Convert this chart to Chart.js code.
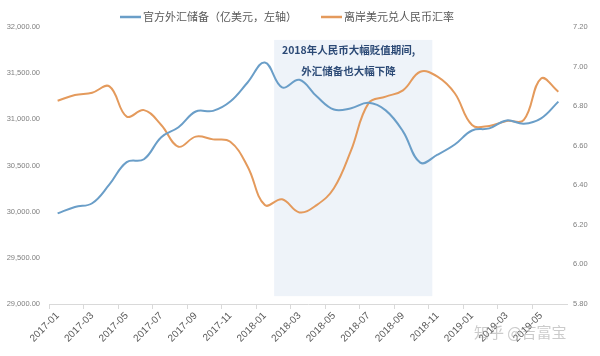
<!DOCTYPE html>
<html><head><meta charset="utf-8">
<script src="https://cdn.jsdelivr.net/npm/chart.js@4.4.1/dist/chart.umd.min.js"></script>
<style>html,body{margin:0;padding:0;background:#fff}#wrap{width:600px;height:356px}</style>
</head><body><div id="wrap"><canvas id="c" width="600" height="356"></canvas></div>
<script>
const months = ['2017-01','2017-02','2017-03','2017-04','2017-05','2017-06','2017-07','2017-08','2017-09','2017-10','2017-11','2017-12',
  '2018-01','2018-02','2018-03','2018-04','2018-05','2018-06','2018-07','2018-08','2018-09','2018-10','2018-11','2018-12',
  '2019-01','2019-02','2019-03','2019-04','2019-05','2019-06'];
const reserves = [29982,30051,30091,30295,30536,30568,30807,30915,31085,31092,31193,31399,
  31615,31345,31428,31249,31106,31121,31179,31097,30870,30531,30617,30727,
  30879,30902,30988,30952,31010,31192];
const usdCnh = [6.827,6.856,6.868,6.900,6.747,6.780,6.705,6.595,6.646,6.632,6.620,6.495,
  6.300,6.329,6.263,6.300,6.385,6.578,6.814,6.848,6.880,6.974,6.949,6.865,
  6.705,6.700,6.725,6.730,6.940,6.873];
const seriesNames = ['官方外汇储备（亿美元，左轴）','离岸美元兑人民币汇率'];
const leftRange = [29000, 32000, 500];
const rightRange = [5.8, 7.2, 0.2];
const noteLines = ['2018年人民币大幅贬值期间,','外汇储备也大幅下降'];
const watermark = '知乎 @吉富宝';

const BLUE = '#6a9ec8', ORANGE = '#e49a5c';
const FONT = '"Noto Sans CJK SC", "Noto Sans", sans-serif';
const NUMFONT = '"Liberation Sans", Arial, sans-serif';
// shaded period expressed in category-index units and left-axis values
const SHADE = {from: 12.54, to: 21.7, top: 31860, bottom: 29085};

const shadePlugin = {
  id: 'shade',
  beforeDatasetsDraw(chart) {
    const xs = chart.scales.x, ys = chart.scales.y, ctx = chart.ctx;
    const p0 = xs.getPixelForValue(0), step = xs.getPixelForValue(1) - p0;
    const l = p0 + SHADE.from * step, r = p0 + SHADE.to * step;
    const t = ys.getPixelForValue(SHADE.top), b = ys.getPixelForValue(SHADE.bottom);
    ctx.save();
    ctx.fillStyle = '#eef3f9';
    ctx.fillRect(l, t, r - l, b - t);
    ctx.restore();
  },
  afterDraw(chart) {
    const xs = chart.scales.x, ctx = chart.ctx;
    const p0 = xs.getPixelForValue(0), step = xs.getPixelForValue(1) - p0;
    const cx = p0 + 16.85 * step;
    ctx.save();
    ctx.fillStyle = '#2c4a76';
    ctx.font = 'bold 10.5px ' + FONT;
    ctx.textAlign = 'center';
    ctx.textBaseline = 'middle';
    ctx.fillText(noteLines[0], cx, 50);
    ctx.fillText(noteLines[1], cx, 71);
    // legend
    ctx.font = '11px ' + FONT;
    ctx.textAlign = 'left';
    ctx.fillStyle = '#595959';
    const items = [[120, BLUE, seriesNames[0]], [321, ORANGE, seriesNames[1]]];
    items.forEach(([x, col, txt]) => {
      ctx.strokeStyle = col; ctx.lineWidth = 2.5;
      ctx.beginPath(); ctx.moveTo(x, 17); ctx.lineTo(x + 21, 17); ctx.stroke();
      ctx.fillText(txt, x + 23, 17);
    });
    // watermark
    ctx.font = '15px ' + FONT;
    ctx.fillStyle = 'rgba(160,160,160,0.55)';
    ctx.fillText(watermark, 474, 332);
    ctx.restore();
  }
};

new Chart(document.getElementById('c'), {
  type: 'line',
  data: {
    labels: months,
    datasets: [
      {label: seriesNames[0], data: reserves, yAxisID: 'y', borderColor: BLUE, backgroundColor: BLUE,
       borderWidth: 2, pointRadius: 0, tension: 0.4, fill: false},
      {label: seriesNames[1], data: usdCnh, yAxisID: 'y1', borderColor: ORANGE, backgroundColor: ORANGE,
       borderWidth: 2, pointRadius: 0, tension: 0.4, fill: false}
    ]
  },
  options: {
    responsive: false,
    animation: false,
    layout: {padding: {top: 27, left: 0, right: 0, bottom: 0}},
    plugins: {legend: {display: false}, tooltip: {enabled: false}},
    scales: {
      x: {
        offset: true,
        grid: {offset: true, drawOnChartArea: false, drawTicks: true, tickLength: 5,
               color: (c) => (c.index % 2 === 0 ? '#d9d9d9' : 'rgba(0,0,0,0)')},
        border: {color: '#d9d9d9'},
        ticks: {autoSkip: false, minRotation: 45, maxRotation: 45, padding: 1,
                color: '#595959', font: {family: NUMFONT, size: 10},
                callback: (v, i) => (i % 2 === 0 ? months[i] : '')},
        afterFit: (s) => { s.height = 52; }
      },
      y: {
        position: 'left', min: leftRange[0], max: leftRange[1],
        grid: {display: false, drawTicks: false}, border: {display: false},
        ticks: {stepSize: leftRange[2], padding: 9, color: '#7f7f7f', font: {family: NUMFONT, size: 7.5},
                callback: (v) => v.toLocaleString('en-US', {minimumFractionDigits: 2, maximumFractionDigits: 2})},
        afterFit: (s) => { s.width = 49; }
      },
      y1: {
        position: 'right', min: rightRange[0], max: rightRange[1],
        grid: {display: false, drawTicks: false}, border: {display: false},
        ticks: {stepSize: rightRange[2], padding: 6, color: '#7f7f7f', font: {family: NUMFONT, size: 7.5},
                callback: (v) => v.toFixed(2)},
        afterFit: (s) => { s.width = 33; }
      }
    }
  },
  plugins: [shadePlugin]
});
</script></body></html>
